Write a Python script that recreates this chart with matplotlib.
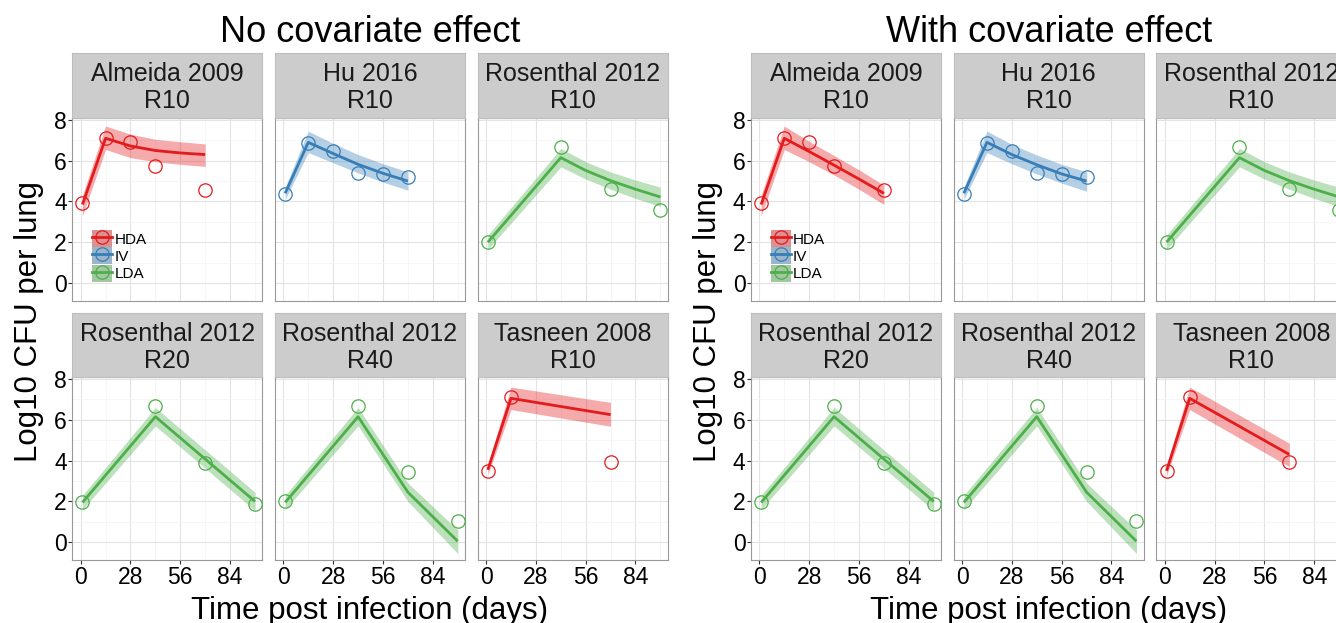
import matplotlib
matplotlib.use("Agg")
import matplotlib.pyplot as plt
from matplotlib.patches import Patch
from matplotlib.lines import Line2D
from matplotlib.legend_handler import HandlerTuple

plt.rcParams['font.family'] = ['Liberation Sans', 'DejaVu Sans']

# ---------------- data ----------------
chart_titles = ["No covariate effect", "With covariate effect"]
facet_labels = ["Almeida 2009\nR10", "Hu 2016\nR10", "Rosenthal 2012\nR10",
                "Rosenthal 2012\nR20", "Rosenthal 2012\nR40", "Tasneen 2008\nR10"]
facet_groups = ["HDA", "IV", "LDA", "LDA", "LDA", "HDA"]
groups = ["HDA", "IV", "LDA"]
group_colors = {"HDA": "#E41A1C", "IV": "#377EB8", "LDA": "#4DAF4A"}

x_ticks = [0, 28, 56, 84]
x_minor = [14, 42, 70, 98]
y_ticks = [0, 2, 4, 6, 8]
y_minor = [1, 3, 5, 7]

# observations
obs_t_almeida = [1, 14, 28, 42, 70]
obs_y_almeida = [3.9, 7.1, 6.9, 5.75, 4.55]
obs_t_hu = [1, 14, 28, 42, 56, 70]
obs_y_hu = [4.35, 6.87, 6.46, 5.38, 5.35, 5.18]
obs_t_ros10 = [1, 42, 70, 98]
obs_y_ros10 = [2.0, 6.65, 4.63, 3.6]
obs_t_ros20 = [1, 42, 70, 98]
obs_y_ros20 = [1.98, 6.68, 3.86, 1.85]
obs_t_ros40 = [1, 42, 70, 98]
obs_y_ros40 = [2.0, 6.65, 3.43, 1.03]
obs_t_tasneen = [1, 14, 70]
obs_y_tasneen = [3.48, 7.12, 3.92]

# model predictions (median, lower, upper)
pred_t_almeida = [1, 14, 28, 42, 56, 70]
nocov_y_almeida = [3.85, 7.1, 6.72, 6.5, 6.38, 6.3]
nocov_lo_almeida = [3.3, 6.55, 6.15, 5.95, 5.82, 5.72]
nocov_hi_almeida = [4.3, 7.7, 7.3, 7.05, 6.93, 6.82]
cov_y_almeida = [3.85, 7.1, 6.45, 5.78, 5.1, 4.4]
cov_lo_almeida = [3.3, 6.55, 5.95, 5.3, 4.6, 3.85]
cov_hi_almeida = [4.3, 7.7, 6.95, 6.25, 5.55, 4.8]

pred_t_hu = [1, 14, 28, 42, 56, 70]
nocov_y_hu = [4.4, 6.9, 6.35, 5.82, 5.38, 5.0]
nocov_lo_hu = [4.1, 6.4, 5.9, 5.4, 4.95, 4.55]
nocov_hi_hu = [4.7, 7.45, 6.85, 6.3, 5.85, 5.45]
cov_y_hu = [4.4, 6.9, 6.3, 5.8, 5.35, 5.0]
cov_lo_hu = [4.1, 6.4, 5.85, 5.35, 4.9, 4.5]
cov_hi_hu = [4.7, 7.45, 6.8, 6.28, 5.82, 5.45]

pred_t_ros10 = [1, 42, 56, 70, 84, 98]
nocov_y_ros10 = [2.0, 6.15, 5.52, 5.02, 4.6, 4.22]
nocov_lo_ros10 = [1.65, 5.7, 5.1, 4.6, 4.15, 3.75]
nocov_hi_ros10 = [2.35, 6.6, 5.95, 5.45, 5.05, 4.7]
cov_y_ros10 = [2.0, 6.15, 5.52, 5.02, 4.6, 4.22]
cov_lo_ros10 = [1.65, 5.7, 5.1, 4.6, 4.15, 3.75]
cov_hi_ros10 = [2.35, 6.6, 5.95, 5.45, 5.05, 4.7]

pred_t_ros20 = [1, 42, 98]
nocov_y_ros20 = [1.95, 6.15, 2.0]
nocov_lo_ros20 = [1.6, 5.7, 1.55]
nocov_hi_ros20 = [2.3, 6.6, 2.45]
cov_y_ros20 = [1.95, 6.15, 2.0]
cov_lo_ros20 = [1.6, 5.7, 1.55]
cov_hi_ros20 = [2.3, 6.6, 2.45]

pred_t_ros40 = [1, 42, 70, 98]
nocov_y_ros40 = [1.95, 6.15, 2.45, 0.05]
nocov_lo_ros40 = [1.6, 5.7, 2.0, -0.55]
nocov_hi_ros40 = [2.3, 6.6, 2.9, 0.6]
cov_y_ros40 = [1.95, 6.15, 2.45, 0.05]
cov_lo_ros40 = [1.6, 5.7, 2.0, -0.55]
cov_hi_ros40 = [2.3, 6.6, 2.9, 0.6]

pred_t_tasneen = [1, 14, 70]
nocov_y_tasneen = [3.55, 7.05, 6.25]
nocov_lo_tasneen = [3.3, 6.5, 5.68]
nocov_hi_tasneen = [3.8, 7.6, 6.85]
cov_y_tasneen = [3.5, 7.05, 4.3]
cov_lo_tasneen = [3.25, 6.5, 3.7]
cov_hi_tasneen = [3.75, 7.6, 4.85]

obs_t = [obs_t_almeida, obs_t_hu, obs_t_ros10, obs_t_ros20, obs_t_ros40, obs_t_tasneen]
obs_y = [obs_y_almeida, obs_y_hu, obs_y_ros10, obs_y_ros20, obs_y_ros40, obs_y_tasneen]
pred_t = [pred_t_almeida, pred_t_hu, pred_t_ros10, pred_t_ros20, pred_t_ros40, pred_t_tasneen]
pred = [
    [  # no covariate effect
        (nocov_y_almeida, nocov_lo_almeida, nocov_hi_almeida),
        (nocov_y_hu, nocov_lo_hu, nocov_hi_hu),
        (nocov_y_ros10, nocov_lo_ros10, nocov_hi_ros10),
        (nocov_y_ros20, nocov_lo_ros20, nocov_hi_ros20),
        (nocov_y_ros40, nocov_lo_ros40, nocov_hi_ros40),
        (nocov_y_tasneen, nocov_lo_tasneen, nocov_hi_tasneen),
    ],
    [  # with covariate effect
        (cov_y_almeida, cov_lo_almeida, cov_hi_almeida),
        (cov_y_hu, cov_lo_hu, cov_hi_hu),
        (cov_y_ros10, cov_lo_ros10, cov_hi_ros10),
        (cov_y_ros20, cov_lo_ros20, cov_hi_ros20),
        (cov_y_ros40, cov_lo_ros40, cov_hi_ros40),
        (cov_y_tasneen, cov_lo_tasneen, cov_hi_tasneen),
    ],
]

# ---------------- layout (pixels) ----------------
W, H = 1336, 623
fig = plt.figure(figsize=(W / 100, H / 100), dpi=100)

def fx(px):
    return px / W

def fy(py):
    return 1 - py / H

chart_offsets = [0.0, 678.7]
col_left = [72.3, 275.0, 477.7]
panel_w = 190.0
rows_strip_top = [53.3, 312.7]
rows_panel_top = [118.3, 377.3]
rows_panel_bot = [300.7, 560.0]

for ci, off in enumerate(chart_offsets):
    for fi, lab in enumerate(facet_labels):
        r, c = divmod(fi, 3)
        x0 = col_left[c] + off
        grp = facet_groups[fi]
        col = group_colors[grp]
        ax = fig.add_axes([fx(x0), fy(rows_panel_bot[r]), fx(panel_w),
                           (rows_panel_bot[r] - rows_panel_top[r]) / H])
        yv, lo, hi = pred[ci][fi]
        ax.fill_between(pred_t[fi], lo, hi, color=col, alpha=0.37, lw=0, zorder=2)
        ax.plot(pred_t[fi], yv, color=col, lw=2.0, zorder=3, solid_capstyle='butt')
        ax.plot(obs_t[fi], obs_y[fi], ls='none', marker='o', ms=9.6, mfc='none',
                mec=col, mew=0.9, zorder=4, clip_on=False)
        ax.set_xlim(-4.7, 102.1)
        ax.set_ylim(-0.87, 8.08)
        ax.set_xticks(x_ticks)
        ax.set_yticks(y_ticks)
        ax.set_xticks(x_minor, minor=True)
        ax.set_yticks(y_minor, minor=True)
        ax.grid(which='major', color='#E3E3E3', lw=0.8, zorder=0)
        ax.grid(which='minor', color='#F3F3F3', lw=0.5, zorder=0)
        ax.set_axisbelow(True)
        for s in ax.spines.values():
            s.set_color('#999999')
            s.set_linewidth(0.8)
        ax.tick_params(which='minor', length=0)
        ax.tick_params(which='major', length=3.0, width=0.8, color='#333333',
                       labelsize=16.5, pad=1.0)
        if c != 0:
            ax.tick_params(axis='y', which='both', left=False, labelleft=False)
        if r != 1:
            ax.tick_params(axis='x', which='both', bottom=False, labelbottom=False)

        # strip
        sax = fig.add_axes([fx(x0), fy(rows_panel_top[r]), fx(panel_w),
                            (rows_panel_top[r] - rows_strip_top[r]) / H])
        sax.set_xticks([])
        sax.set_yticks([])
        sax.set_facecolor('#CCCCCC')
        for s in sax.spines.values():
            s.set_color('#BDBDBD')
            s.set_linewidth(0.8)
        fig.text(fx(x0 + panel_w / 2), fy(rows_strip_top[r] + 55.0), lab,
                 ha='center', va='baseline', fontsize=18, linespacing=1.16,
                 color='#1A1A1A')

        if fi == 0:
            handles = []
            for g in groups:
                gc = group_colors[g]
                handles.append((Patch(facecolor='#D6D6D6', edgecolor='none'),
                                Patch(facecolor=gc, alpha=0.37, edgecolor='none'),
                                Line2D([], [], color=gc, lw=2.0, marker='o', ms=9.6,
                                       mfc='none', mec=gc, mew=0.9)))
            leg = ax.legend(handles, groups, loc='lower left',
                            bbox_to_anchor=(0.105, 0.105), frameon=False,
                            fontsize=11, handlelength=1.3, handleheight=1.3,
                            labelspacing=0.05, handletextpad=0.15, borderpad=0,
                            borderaxespad=0,
                            handler_map={tuple: HandlerTuple(ndivide=1, pad=0)})
            leg.set_zorder(5)

    # chart title and axis labels
    fig.text(fx(370 + off), fy(41.7), chart_titles[ci], ha='center', va='baseline',
             fontsize=26)
    fig.text(fx(370 + off), fy(618.6), "Time post infection (days)", ha='center',
             va='baseline', fontsize=22.5)
    fig.text(fx(29 + off), fy(322), "Log10 CFU per lung", ha='center', va='center',
             rotation=90, fontsize=22.5)

fig.savefig("out.png", dpi=100)
